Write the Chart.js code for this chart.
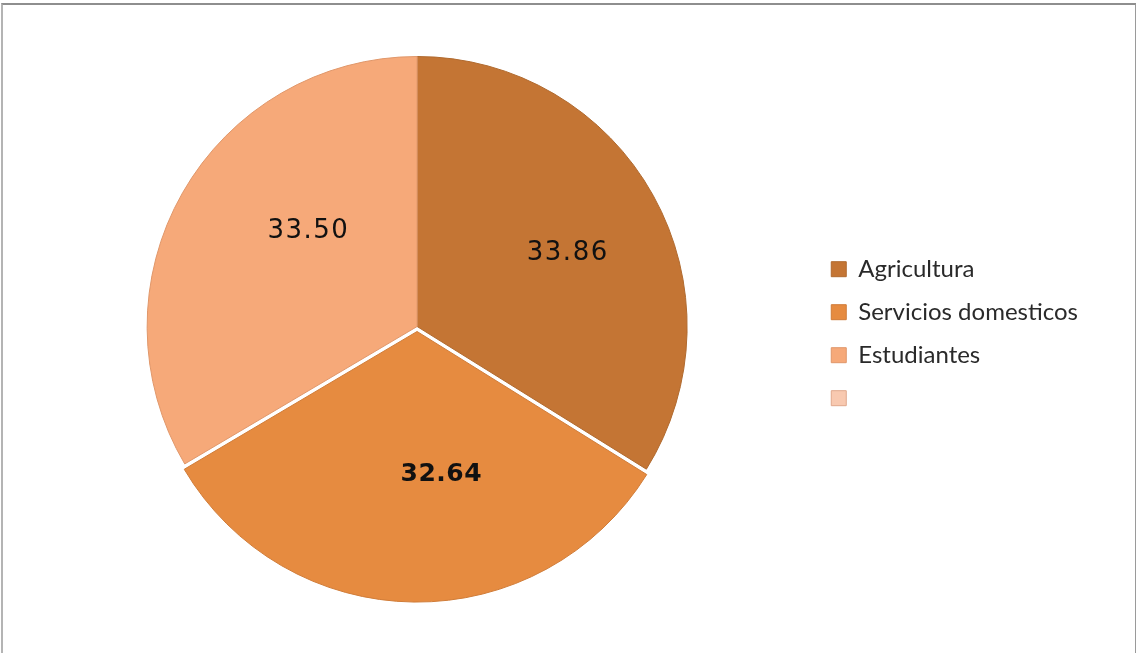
<!DOCTYPE html>
<html lang="es">
<head>
  <meta charset="UTF-8" />
  <title>Ocupación</title>
  <script src="https://cdn.jsdelivr.net/npm/chart.js"></script>
  <style>
    body { margin: 0; background: #fff; }
    .wrap { position: relative; width: 1136px; height: 653px; overflow: hidden; }
    .wrap canvas { position: absolute; left: 0; top: 0; }
    /* thin gray frame around the chart */
    .frame {
      position: absolute; left: 1px; top: 3px; width: 1132px; height: 660px;
      border-top: 2px solid #8e8e8e; border-left: 2px solid #b4b4b4; border-right: 2px solid #9a9a9a;
      pointer-events: none;
    }
  </style>
</head>
<body>
  <div class="wrap">
    <canvas id="pieChart" width="1136" height="653"></canvas>
    <div class="frame"></div>
  </div>

  <script>
    // Data
    const categories = ['Agricultura', 'Servicios domesticos', 'Estudiantes', ''];
    const values = [33.86, 32.64, 33.50, 0];
    const valueLabels = ['33.86', '32.64', '33.50', ''];

    const fills = ['#c47534', '#e68b40', '#f6a979', '#f8c9b0'];
    const edges = ['#b06a2f', '#d07c38', '#e0976a', '#e0a88c'];

    // Writes each slice's value inside the slice
    const sliceValues = {
      id: 'sliceValues',
      afterDatasetsDraw(chart, args, opts) {
        const ctx = chart.ctx;
        const meta = chart.getDatasetMeta(0);
        meta.data.forEach((arc, i) => {
          if (!valueLabels[i]) return;
          const mid = (arc.startAngle + arc.endAngle) / 2;
          const r = arc.outerRadius * opts.radius;
          const nudge = opts.nudge[i] || [0, 0];
          const x = arc.x + Math.cos(mid) * r + nudge[0];
          const y = arc.y + Math.sin(mid) * r + nudge[1];
          ctx.save();
          ctx.font = (i === opts.boldIndex ? 'bold 25px' : '26px') + ' "DejaVu Sans"';
          ctx.letterSpacing = i === opts.boldIndex ? '0.5px' : '1.5px';
          ctx.fillStyle = '#111';
          ctx.textAlign = 'center';
          ctx.textBaseline = 'middle';
          ctx.fillText(valueLabels[i], x, y);
          ctx.restore();
        });
      }
    };

    const ctx = document.getElementById('pieChart').getContext('2d');
    new Chart(ctx, {
      type: 'pie',
      data: {
        labels: categories,
        datasets: [{
          data: values,
          backgroundColor: fills,
          borderColor: edges,
          borderWidth: 1,
          offset: [0, 20, 0, 0]
        }]
      },
      options: {
        responsive: false,
        animation: false,
        layout: { padding: { left: 22, right: 48, top: 46, bottom: 46 } },
        plugins: {
          tooltip: { enabled: false },
          legend: {
            position: 'right',
            align: 'center',
            title: { display: true, text: ' ', padding: 0, font: { size: 12 } },
            labels: {
              boxWidth: 15,
              boxHeight: 15,
              padding: 19,
              color: '#2a2a2a',
              font: { family: 'Lato', size: 24 }
            }
          },
          sliceValues: {
            radius: 0.6,
            boldIndex: 1,
            nudge: [[9, 5], [26, -14], [32, -15]]
          }
        }
      },
      plugins: [sliceValues]
    });
  </script>
</body>
</html>
